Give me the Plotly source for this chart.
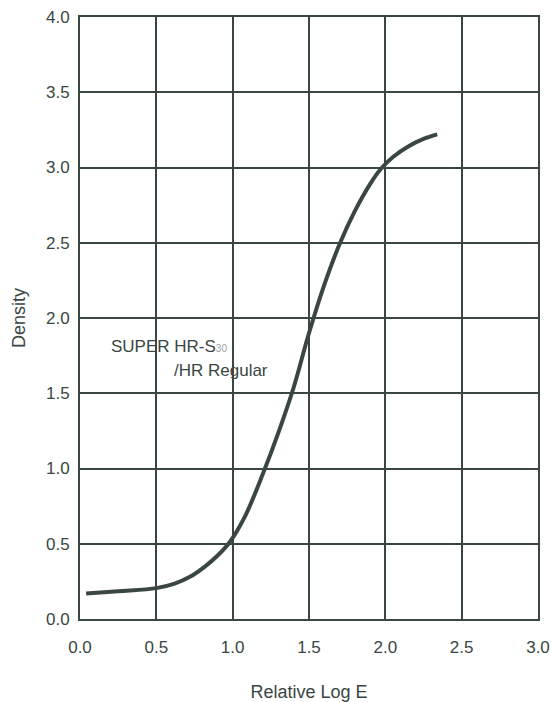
import plotly.graph_objects as go

# Characteristic curve (Relative Log E vs Density)
log_e = [0.04, 0.25, 0.5, 0.62, 0.72, 0.82, 0.9, 0.98, 1.08, 1.2, 1.3, 1.4, 1.5, 1.6, 1.7, 1.8, 1.9, 1.97, 2.05, 2.15, 2.25, 2.34]
density = [0.17, 0.185, 0.205, 0.235, 0.28, 0.35, 0.42, 0.51, 0.68, 0.97, 1.24, 1.54, 1.9, 2.22, 2.49, 2.71, 2.89, 2.99, 3.07, 3.14, 3.19, 3.22]

x_ticks = [0.0, 0.5, 1.0, 1.5, 2.0, 2.5, 3.0]
y_ticks = [0.0, 0.5, 1.0, 1.5, 2.0, 2.5, 3.0, 3.5, 4.0]

INK = "#3a4643"
FONT = "Liberation Sans, Arial, sans-serif"

fig = go.Figure()
fig.add_trace(go.Scatter(
    x=log_e, y=density, mode="lines",
    line=dict(color=INK, width=4, shape="spline", smoothing=1.0),
    hoverinfo="skip", showlegend=False,
))

fig.add_annotation(
    x=0.19, y=1.81, xref="x", yref="y", xanchor="left", yanchor="middle",
    text="SUPER HR-S<span style='font-size:10px;color:#9aa3a0'>30</span>",
    showarrow=False, font=dict(family=FONT, size=17, color=INK),
)
fig.add_annotation(
    x=0.60, y=1.65, xref="x", yref="y", xanchor="left", yanchor="middle",
    text="/HR Regular",
    showarrow=False, font=dict(family=FONT, size=17, color=INK),
)

axis_common = dict(
    showgrid=True, gridcolor=INK, gridwidth=2,
    showline=True, linecolor=INK, linewidth=2, mirror=True,
    zeroline=False, ticks="", tickformat=".1f", automargin=False,
    tickfont=dict(family=FONT, size=17, color=INK),
)

fig.update_xaxes(
    range=[0, 3], tickvals=x_ticks, ticklabelstandoff=12,
    title=dict(text="Relative Log E", font=dict(family=FONT, size=18, color=INK), standoff=30),
    **axis_common,
)
fig.update_yaxes(
    range=[0, 4], tickvals=y_ticks, ticklabelstandoff=5,
    title=dict(text="Density", font=dict(family=FONT, size=18, color=INK), standoff=16),
    **axis_common,
)

fig.update_layout(
    width=551, height=702,
    margin=dict(l=80, r=13, t=17, b=83),
    paper_bgcolor="white", plot_bgcolor="white",
)

fig.write_html("out.html")
